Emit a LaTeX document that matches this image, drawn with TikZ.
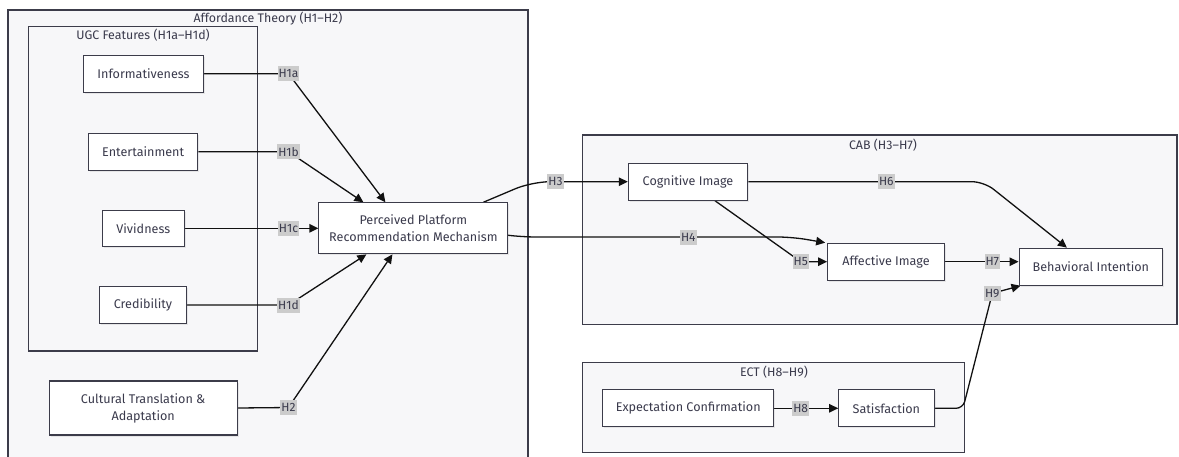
\documentclass[tikz,border=0pt]{standalone}
\usepackage{fontspec}
\setmainfont{Fira Sans}
\usetikzlibrary{arrows.meta,shadows,calc}
\definecolor{clbg}{HTML}{F7F7F9}
\definecolor{clbd}{HTML}{3C3C4A}
\definecolor{txt}{HTML}{3A3A4C}
\definecolor{lblbg}{HTML}{CCCCCC}
\definecolor{edge}{HTML}{111111}
\pgfdeclarelayer{bg}
\pgfdeclarelayer{edges}
\pgfsetlayers{bg,edges,main}
\tikzset{
  cluster/.style={draw=clbd, fill=clbg, line width=1.1pt},
  cltitle/.style={text=txt, font=\fontsize{12.4}{14}\selectfont, inner sep=0pt},
  nb/.style={draw=clbd, fill=white, line width=1.1pt, text=txt, align=center,
    font=\fontsize{12.6}{17}\selectfont, inner sep=2pt,
    drop shadow={shadow xshift=1.5pt, shadow yshift=-1.5pt, opacity=0.15, fill=gray}},
  lbl/.style={fill=lblbg, text=txt, font=\fontsize{12}{14}\selectfont, inner sep=1pt, minimum height=15pt},
  ln/.style={draw=edge, line width=1.3pt},
  arr/.style={ln, -{Triangle[length=9pt,width=8.5pt]}},
}
\begin{document}
\begin{tikzpicture}[x=1pt,y=-1pt]
\useasboundingbox (0,0) rectangle (1179,456);
% clusters
\begin{pgfonlayer}{bg}
\draw[cluster] (8,10) rectangle (528,458);
\draw[cluster] (28.7,26.4) rectangle (257.6,351);
\draw[cluster] (582.7,135) rectangle (1177,324.3);
\draw[cluster] (582.3,362.3) rectangle (964.3,452.5);
\end{pgfonlayer}
\node[cltitle] (tAff) at (268,18.6) {Affordance Theory (H1–H2)};
\node[cltitle] (tUgc) at (143,34.8) {UGC Features (H1a–H1d)};
\node[cltitle] (tCab) at (883,144.7) {CAB (H3–H7)};
\node[cltitle] (tEct) at (774,371.7) {ECT (H8–H9)};
% nodes
\node[nb, minimum width=120pt, minimum height=37pt] (inf) at (143.5,73.7) {Informativeness};
\node[nb, minimum width=109pt, minimum height=37pt] (ent) at (143.2,151.7) {Entertainment};
\node[nb, minimum width=82pt, minimum height=36pt] (viv) at (143.3,228.3) {Vividness};
\node[nb, minimum width=86.6pt, minimum height=37pt] (cre) at (143,305) {Credibility};
\node[nb, minimum width=188pt, minimum height=54pt] (ctr) at (143.2,408) {Cultural Translation \&\\Adaptation};
\node[nb, minimum width=189pt, minimum height=51pt] (ppr) at (413.4,228.3) {Perceived Platform\\Recommendation Mechanism};
\node[nb, minimum width=119.4pt, minimum height=37pt] (cog) at (688,181.7) {Cognitive Image};
\node[nb, minimum width=116.6pt, minimum height=37pt] (aff) at (886,261.7) {Affective Image};
\node[nb, minimum width=143.7pt, minimum height=37pt] (beh) at (1090.9,266.7) {Behavioral Intention};
\node[nb, minimum width=171pt, minimum height=37pt] (exp) at (688.2,408.3) {Expectation Confirmation};
\node[nb, minimum width=95.3pt, minimum height=37pt] (sat) at (886.4,408.3) {Satisfaction};
% edge labels
\node[lbl] (l1a) at (288.5,73.7) {H1a};
\node[lbl] (l1b) at (288.5,151.7) {H1b};
\node[lbl] (l1c) at (288.5,228.3) {H1c};
\node[lbl] (l1d) at (288.5,305) {H1d};
\node[lbl] (l2) at (288.5,407.5) {H2};
\node[lbl] (l3) at (555.5,181.7) {H3};
\node[lbl] (l4) at (688.3,237) {H4};
\node[lbl] (l5) at (800.8,261.7) {H5};
\node[lbl] (l6) at (886.3,181.7) {H6};
\node[lbl] (l7) at (992.3,261.7) {H7};
\node[lbl] (l8) at (800.7,408.3) {H8};
\node[lbl] (l9) at (992.3,293.3) {H9};
% bend points
\coordinate (b3) at (532,181.7);
\coordinate (b4a) at (522,237);
\coordinate (b4b) at (792,237);
\coordinate (b6) at (984,181.7);
\coordinate (b9) at (963,408.3);
% edges
\begin{pgfonlayer}{edges}
\draw[arr] (inf.east) -- (l1a.center) -- ($(ppr.north)+(-28,0)$);
\draw[arr] (ent.east) -- (l1b.center) -- ($(ppr.north)+(-50,0)$);
\draw[arr] (viv.east) -- (ppr.west);
\draw[arr] (cre.east) -- (l1d.center) -- ($(ppr.south)+(-47,0)$);
\draw[arr] (ctr.east) -- (l2.center) -- ($(ppr.south)+(-21,0)$);
\draw[arr, rounded corners=18pt] ($(ppr.north)+(70,0)$) -- (b3) -- (cog.west);
\draw[arr, rounded corners=14pt] ($(ppr.east)+(0,7)$) -- (b4a) -- (b4b) -- ($(aff.north west)+(-2,0)$);
\draw[arr] ($(cog.south)+(27,0)$) -- (l5.center) -- (aff.west);
\draw[arr, rounded corners=12pt] (cog.east) -- (b6) -- ($(beh.north)+(-24,0)$);
\draw[arr] (aff.east) -- (l7.center) -- (aff.east -| beh.west);
\draw[arr] (exp.east) -- (l8.center) -- (sat.west);
\draw[arr, rounded corners=7pt] (sat.east) -- (b9) -- (l9.center) -- ($(beh.south west)+(2,0)$);
\end{pgfonlayer}
\end{tikzpicture}
\end{document}
